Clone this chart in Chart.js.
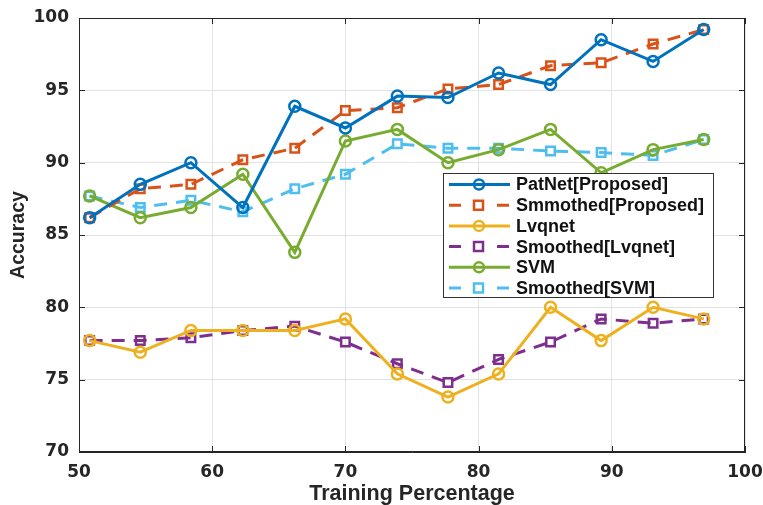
<!DOCTYPE html>
<html>
<head>
<meta charset="utf-8">
<script src="https://cdn.jsdelivr.net/npm/chart.js@4/dist/chart.umd.min.js"></script>
<style>
  body { margin: 0; background: #fff; }
  #wrap { width: 763px; height: 505px; }
</style>
</head>
<body>
<div id="wrap"><canvas id="acc" width="763" height="505"></canvas></div>
<script>
// training percentages (x)
const trainPct = [50.8, 54.6, 58.4, 62.3, 66.2, 70.0, 73.9, 77.7, 81.5, 85.4, 89.2, 93.1, 96.9];

const patnet      = [86.2, 88.5, 90.0, 86.9, 93.9, 92.4, 94.6, 94.5, 96.2, 95.4, 98.5, 97.0, 99.2];
const smoothProp  = [86.2, 88.2, 88.5, 90.2, 91.0, 93.6, 93.8, 95.1, 95.4, 96.7, 96.9, 98.2, 99.2];
const lvqnet      = [77.7, 76.9, 78.4, 78.4, 78.4, 79.2, 75.4, 73.8, 75.4, 80.0, 77.7, 80.0, 79.2];
const smoothLvq   = [77.7, 77.7, 77.9, 78.4, 78.7, 77.6, 76.1, 74.8, 76.4, 77.6, 79.2, 78.9, 79.2];
const svm         = [87.7, 86.2, 86.9, 89.2, 83.8, 91.5, 92.3, 90.0, 90.9, 92.3, 89.3, 90.9, 91.6];
const smoothSvm   = [87.7, 86.9, 87.4, 86.6, 88.2, 89.2, 91.3, 91.0, 91.0, 90.8, 90.7, 90.5, 91.6];

const seriesNames = ['PatNet[Proposed]', 'Smmothed[Proposed]', 'Lvqnet', 'Smoothed[Lvqnet]', 'SVM', 'Smoothed[SVM]'];
const seriesData  = [patnet, smoothProp, lvqnet, smoothLvq, svm, smoothSvm];
const seriesColor = ['#0072BD', '#D95319', '#EDB120', '#7E2F8E', '#77AC30', '#4DBEEE'];
const seriesDash  = [false, true, false, true, false, true];

function pts(vals) {
  return vals.map(function (v, i) { return { x: trainPct[i], y: v }; });
}

var datasets = seriesNames.map(function (name, k) {
  return {
    label: name,
    data: pts(seriesData[k]),
    borderColor: seriesColor[k],
    backgroundColor: 'transparent',
    borderWidth: 3,
    borderDash: seriesDash[k] ? [13, 9] : [],
    pointStyle: seriesDash[k] ? 'rect' : 'circle',
    pointRadius: seriesDash[k] ? 6 : 5.5,
    pointBorderWidth: 2.5,
    pointBorderColor: seriesColor[k],
    pointBackgroundColor: 'transparent',
    tension: 0
  };
});

// box, inward ticks and in-plot legend like the matlab figure
var boxPlugin = {
  id: 'boxLegend',
  afterDatasetsDraw: function (chart) {
    var ctx = chart.ctx, a = chart.chartArea;
    var xs = chart.scales.x, ys = chart.scales.y;
    ctx.save();
    ctx.strokeStyle = '#262626';
    ctx.lineWidth = 1;
    ctx.setLineDash([]);
    ctx.strokeRect(a.left + 0.5, a.top + 0.5, a.right - a.left - 1, a.bottom - a.top - 1);
    ctx.beginPath();
    xs.ticks.forEach(function (t) {
      var px = Math.round(xs.getPixelForValue(t.value)) + 0.5;
      ctx.moveTo(px, a.bottom); ctx.lineTo(px, a.bottom - 6);
      ctx.moveTo(px, a.top); ctx.lineTo(px, a.top + 6);
    });
    ys.ticks.forEach(function (t) {
      var py = Math.round(ys.getPixelForValue(t.value)) + 0.5;
      ctx.moveTo(a.left, py); ctx.lineTo(a.left + 6, py);
      ctx.moveTo(a.right, py); ctx.lineTo(a.right - 6, py);
    });
    ctx.stroke();

    // legend
    var lx = 443, ly = 173, lw = 270, lh = 124;
    ctx.fillStyle = '#fff';
    ctx.fillRect(lx, ly, lw, lh);
    ctx.strokeStyle = '#333';
    ctx.strokeRect(lx + 0.5, ly + 0.5, lw, lh);
    ctx.font = 'bold 18px "Liberation Sans", Arial, sans-serif';
    ctx.textBaseline = 'middle';
    chart.data.datasets.forEach(function (ds, i) {
      var cy = 184.5 + i * 20.7;
      ctx.strokeStyle = ds.borderColor;
      ctx.lineWidth = 3;
      ctx.beginPath();
      if (ds.borderDash.length) {
        ctx.moveTo(449, cy); ctx.lineTo(461, cy);
        ctx.moveTo(497, cy); ctx.lineTo(509, cy);
      } else {
        ctx.moveTo(449, cy); ctx.lineTo(510, cy);
      }
      ctx.stroke();
      ctx.lineWidth = 2.5;
      ctx.beginPath();
      if (ds.pointStyle === 'rect') {
        ctx.rect(474, cy - 4.5, 9, 9);
      } else {
        ctx.arc(479, cy, 5, 0, Math.PI * 2);
      }
      ctx.stroke();
      ctx.fillStyle = '#111';
      ctx.fillText(ds.label, 516, cy + 1);
    });
    ctx.restore();
  }
};

var tickFont = { family: '"DejaVu Sans", sans-serif', size: 17, weight: 'bold' };
var titleFamily = '"Liberation Sans", Arial, sans-serif';

new Chart(document.getElementById('acc').getContext('2d'), {
  type: 'line',
  data: { datasets: datasets },
  options: {
    responsive: false,
    animation: false,
    layout: { padding: { top: 18, right: 18, left: 0, bottom: 0 } },
    plugins: { legend: { display: false }, tooltip: { enabled: false } },
    scales: {
      x: {
        type: 'linear', min: 50, max: 100,
        ticks: { stepSize: 10, color: '#262626', font: tickFont, padding: 10 },
        grid: { color: '#e3e3e3', drawTicks: false, tickLength: 0 },
        border: { color: '#262626' },
        title: { display: true, text: 'Training Percentage', color: '#262626',
                 font: { family: titleFamily, size: 21.5, weight: 'bold', lineHeight: 1 }, padding: { bottom: 0.5 } },
        afterFit: function (s) { s.height = 53; s.paddingLeft = 0; s.paddingRight = 0; }
      },
      y: {
        min: 70, max: 100,
        ticks: { stepSize: 5, color: '#262626', font: tickFont, padding: 10 },
        grid: { color: '#e3e3e3', drawTicks: false, tickLength: 0 },
        border: { color: '#262626' },
        title: { display: true, text: 'Accuracy', color: '#262626',
                 font: { family: titleFamily, size: 19.5, weight: 'bold', lineHeight: 1 }, padding: { top: 9 } },
        afterFit: function (s) { s.width = 79; s.paddingTop = 0; s.paddingBottom = 0; }
      }
    }
  },
  plugins: [boxPlugin]
});
</script>
</body>
</html>
